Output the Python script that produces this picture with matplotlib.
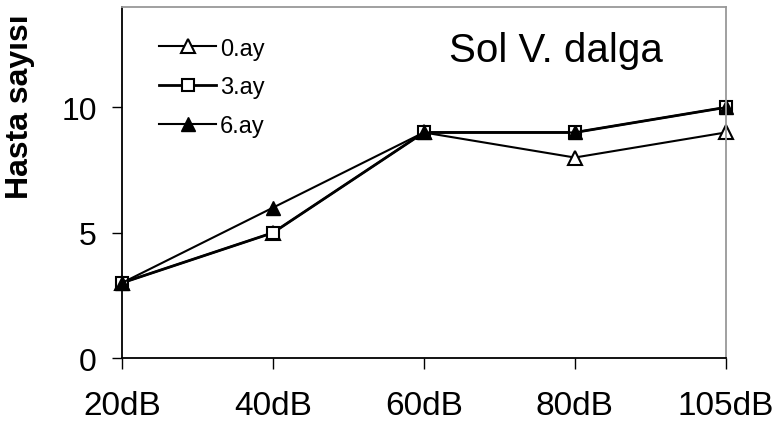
import matplotlib.pyplot as plt
import numpy as np

plt.rcParams['font.family'] = ['Liberation Sans', 'DejaVu Sans']

# Data
categories = ['20dB', '40dB', '60dB', '80dB', '105dB']
ay0 = [3, 5, 9, 8, 9]
ay3 = [3, 5, 9, 9, 10]
ay6 = [3, 6, 9, 9, 10]

x = np.arange(len(categories))

fig = plt.figure(figsize=(7.82, 4.27), dpi=100)
ax = fig.add_axes([0.156, 0.159, 0.772, 0.822])

ax.plot(x, ay0, color='black', lw=1.5, marker='^', markersize=10,
        markerfacecolor='white', markeredgecolor='black', mew=1.5, label='0.ay', clip_on=False)
ax.plot(x, ay3, color='black', lw=2.0, marker='s', markersize=9,
        markerfacecolor='white', markeredgecolor='black', mew=1.5, label='3.ay', clip_on=False)
ax.plot(x, ay6, color='black', lw=1.5, marker='^', markersize=10,
        markerfacecolor='black', markeredgecolor='black', label='6.ay', clip_on=False)

ax.set_xlim(0, 4)
ax.set_ylim(0, 14)
ax.set_xticks(x)
ax.set_xticklabels(categories, fontsize=24)
ax.set_yticks([0, 5, 10])
ax.tick_params(axis='y', labelsize=23, direction='out', length=7, width=1, pad=11)
ax.tick_params(axis='x', direction='out', length=8, width=1, pad=15)

ax.spines['left'].set_color('black')
ax.spines['bottom'].set_color('black')
ax.spines['top'].set_color('#999999')
ax.spines['right'].set_color('#999999')
for s in ax.spines.values():
    s.set_linewidth(1.3)

ax.set_ylabel('Hasta sayısı', fontsize=23, fontweight='bold')
ax.yaxis.set_label_coords(-0.144, 0.72)

ax.text(0.541, 0.846, 'Sol V. dalga', transform=ax.transAxes, fontsize=29,
        ha='left', va='baseline')

leg = ax.legend(loc='upper left', bbox_to_anchor=(0.045, 0.94), frameon=False,
                fontsize=17, handlelength=2.45, handletextpad=0.15, labelspacing=0.71,
                borderaxespad=0)

fig.savefig('out.png', dpi=100)
